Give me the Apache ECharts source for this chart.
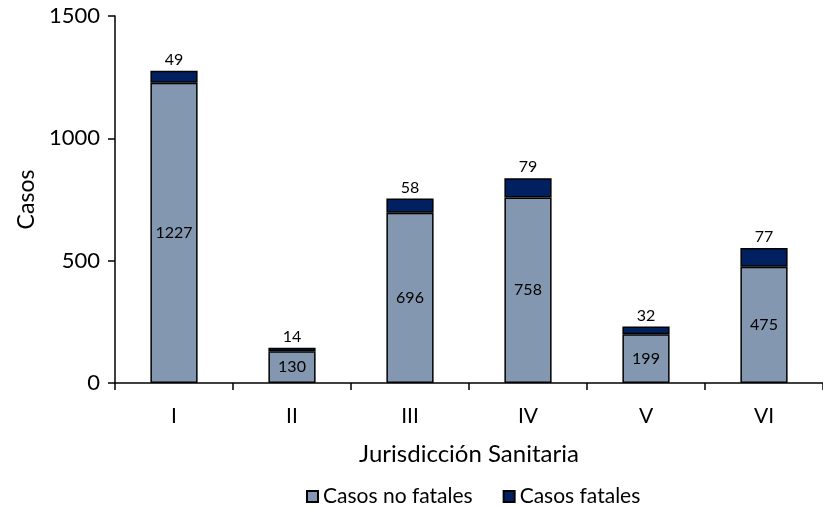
<!DOCTYPE html>
<html>
<head>
<meta charset="utf-8">
<script src="https://cdn.jsdelivr.net/npm/echarts@6/dist/echarts.min.js"></script>
<style>
  html, body { margin: 0; padding: 0; background: #fff; }
  #main { width: 823px; height: 508px; }
</style>
</head>
<body>
<div id="main"></div>
<script>
// datos
const jurisdicciones = ['I', 'II', 'III', 'IV', 'V', 'VI'];
const noFatales = [1227, 130, 696, 758, 199, 475];
const fatales = [49, 14, 58, 79, 32, 77];

const fuente = 'Lato, "Noto Sans", sans-serif';

const chart = echarts.init(document.getElementById('main'));

var option = {
  animation: false,
  textStyle: { fontFamily: fuente, color: '#000' },
  grid: { left: 115, top: 16, width: 712, height: 367 },
  legend: {
    left: 301,
    top: 481,
    icon: 'rect',
    itemWidth: 11,
    itemHeight: 11,
    itemGap: 30,
    textStyle: { fontSize: 21, color: '#000', fontFamily: fuente },
    data: ['Casos no fatales', 'Casos fatales']
  },
  xAxis: {
    type: 'category',
    data: jurisdicciones,
    name: 'Jurisdicción Sanitaria',
    nameLocation: 'middle',
    nameGap: 59,
    nameTextStyle: { fontSize: 24, color: '#000', fontFamily: fuente },
    axisLine: { lineStyle: { color: '#000', width: 1.5 } },
    axisTick: { show: true, length: 7, lineStyle: { color: '#000', width: 1.5 } },
    axisLabel: { fontSize: 21, color: '#000', margin: 23, fontFamily: fuente }
  },
  yAxis: {
    type: 'value',
    min: 0,
    max: 1500,
    interval: 500,
    name: 'Casos',
    nameLocation: 'middle',
    nameGap: 74,
    nameRotate: 90,
    nameTextStyle: { fontSize: 23, color: '#000', fontFamily: fuente },
    splitLine: { show: false },
    axisLine: { show: true, lineStyle: { color: '#000', width: 1.5 } },
    axisTick: { show: true, length: 7, lineStyle: { color: '#000', width: 1.5 } },
    axisLabel: {
      fontSize: 22, color: '#000', margin: 15, fontFamily: fuente,
      formatter: function (v) { return String(v); }
    }
  },
  series: [
    {
      name: 'Casos no fatales',
      type: 'bar',
      stack: 'total',
      barWidth: '40%',
      data: noFatales,
      itemStyle: { color: '#8497B0', borderColor: '#000', borderWidth: 1.5 },
      label: { show: true, position: 'inside', fontSize: 16, color: '#000', fontFamily: fuente }
    },
    {
      name: 'Casos fatales',
      type: 'bar',
      stack: 'total',
      barWidth: '40%',
      data: fatales,
      itemStyle: { color: '#002060', borderColor: '#000', borderWidth: 1.5 },
      label: { show: true, position: 'top', distance: 3, fontSize: 16, color: '#000', fontFamily: fuente }
    }
  ]
};

chart.setOption(option);
</script>
</body>
</html>
